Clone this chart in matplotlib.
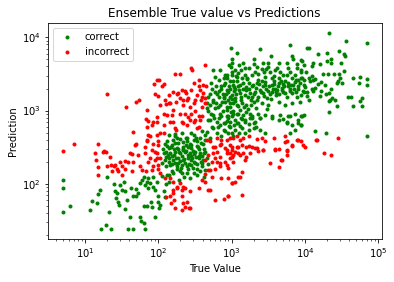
import numpy as np
import matplotlib
matplotlib.use("Agg")
import matplotlib.pyplot as plt

# log10 of true value / prediction
correct_true_log10 = [
    0.70, 0.70, 0.70, 0.80, 1.07, 1.10, 1.17, 1.16, 1.30, 1.20, 1.22, 1.29, 1.32, 1.35, 1.39, 1.41,
    1.43, 1.42, 1.45, 1.46, 1.48, 1.50, 1.53, 1.55, 1.57, 1.55, 1.58, 1.61, 1.63, 1.65, 1.66, 1.70,
    1.69, 1.72, 1.75, 1.76, 1.80, 1.82, 1.77, 1.75, 1.80, 1.82, 1.84, 1.86, 1.81, 1.84, 1.86, 1.89,
    1.90, 1.91, 1.92, 1.93, 1.95, 1.98, 1.99, 1.95, 1.99, 2.01, 2.09, 2.02, 2.07, 2.14, 2.05, 2.10, 2.12,
    # lower main cluster
    2.14, 2.23, 2.32, 2.39, 2.48, 2.57, 2.64, 2.09, 2.18, 2.27, 2.34, 2.43, 2.52, 2.61,
    2.11, 2.16, 2.23, 2.30, 2.36, 2.43, 2.50, 2.57, 2.64, 2.14, 2.20, 2.27, 2.34, 2.41, 2.48, 2.55, 2.61,
    2.16, 2.25, 2.32, 2.39, 2.45, 2.52, 2.59, 2.30, 2.39, 2.48, 2.57, 2.64, 2.18,
    2.20, 2.30, 2.39, 2.48, 2.14, 2.25, 2.34, 2.45, 2.55, 2.18, 2.32, 2.45, 2.59, 2.23, 2.36, 2.50,
    2.09, 2.07, 2.11, 2.20, 2.32,
    2.12, 2.27, 2.41, 2.53, 2.62, 2.29, 2.44, 2.37, 2.21, 2.51, 2.15, 2.40, 2.26, 2.47, 2.33, 2.58,
    2.66, 2.68, 2.05, 2.06, 2.22, 2.44, 2.60, 2.35, 2.28, 2.43, 2.52, 2.62, 2.15,
    2.13, 2.17, 2.19, 2.22, 2.24, 2.26, 2.28, 2.31, 2.33, 2.35, 2.38, 2.40, 2.42, 2.44, 2.46, 2.49,
    2.51, 2.53, 2.54, 2.56, 2.58, 2.60, 2.62, 2.63, 2.12, 2.10, 2.27, 2.37, 2.47, 2.21,
    2.66, 2.73, 2.68, 2.75, 2.80, 2.86, 3.02, 2.70, 2.91, 2.84, 2.95, 3.10,
    # upper main cluster
    2.99, 3.07, 3.39, 3.79, 3.00, 3.54, 3.82, 3.84, 3.30, 3.16, 3.31, 3.43, 3.50, 3.65, 3.75, 3.89,
    2.99, 3.18, 3.24, 3.34, 3.41, 3.49, 3.52, 3.59, 3.66, 3.77, 3.89,
    3.01, 3.00, 3.09, 3.18, 3.27, 3.36, 3.45, 3.55, 3.64, 3.75, 3.82, 3.95, 3.95,
    2.93, 2.91, 2.98, 3.07, 3.11, 3.05, 3.16, 3.23, 3.27, 3.34, 3.41, 3.45, 3.55, 3.59, 3.64, 3.70,
    3.77, 3.84, 3.91, 3.98,
    2.95, 3.00, 3.05, 3.11, 3.18, 3.25, 3.32, 3.36, 3.43, 3.48, 3.55, 3.61, 3.70, 3.75, 3.82, 3.89, 3.95,
    2.91, 2.98, 3.07, 3.14, 3.20, 3.30, 3.41, 3.50, 3.64, 3.73, 3.82, 3.93,
    2.93, 3.02, 3.11, 3.16, 3.25, 3.36, 3.45, 3.55, 3.66, 3.77, 3.86,
    2.95, 3.05, 3.18, 3.30, 3.75, 3.91, 3.98,
    2.85, 2.88, 2.96, 3.03, 3.08, 3.13, 3.20, 3.28, 3.38, 3.47, 3.52, 3.58, 3.62, 3.68, 3.72, 3.80,
    3.86, 3.88, 3.93, 2.97, 3.04, 3.09, 3.22, 3.33, 3.39, 3.48, 3.27, 3.12, 3.02, 3.14, 3.21, 3.26,
    2.90, 2.94, 3.04, 3.13, 3.36, 3.44, 3.62, 3.70, 3.79, 3.86, 3.91,
    2.71, 2.74, 2.78, 2.81, 2.83, 2.87, 2.90, 2.92, 2.95, 2.97, 2.99, 3.01, 3.03, 3.06, 3.08, 3.10,
    3.12, 3.15, 3.17, 3.19, 3.22, 3.24, 3.26, 3.29, 3.31, 3.33, 3.35, 3.37, 3.40, 3.42, 3.44, 3.46,
    3.49, 3.51, 3.53, 3.56, 3.58, 3.60, 3.63, 3.65, 3.67, 3.69, 3.71, 3.73, 3.77, 3.79, 3.81, 3.85,
    3.87, 3.90,
    2.76, 2.81, 2.86, 2.89, 2.93, 2.96, 3.00, 3.03, 3.07, 3.11, 3.14, 3.19, 3.23, 3.28, 3.33, 3.21,
    3.06, 2.89, 3.32, 3.47, 3.57, 2.84, 2.96, 3.10,
    3.00, 2.75, 2.77, 2.82, 2.91, 3.07, 2.73, 2.77, 2.86, 2.93, 3.02, 2.68, 2.75, 2.82, 2.89, 2.98,
    2.70, 2.77, 2.84, 2.93, 3.02, 2.68, 2.75, 2.84, 2.93, 3.02, 2.70, 2.80, 2.89, 2.98, 3.07,
    2.72, 2.80, 2.66, 2.79, 2.88, 2.72, 2.66, 2.83,
    2.95, 3.09, 3.18, 3.25, 3.32, 3.39, 3.55, 3.64, 3.70, 3.80, 2.91, 2.98, 3.05, 3.14, 3.23, 3.30,
    3.39, 3.45, 3.00, 3.18, 3.75, 3.82, 3.86, 3.91, 3.95, 3.80, 4.14, 4.29, 3.95,
    # right side
    4.32, 4.56, 4.84, 4.05, 4.03, 4.17, 4.30, 4.46, 4.53, 4.54, 4.36, 4.30, 4.49, 3.96, 3.98, 4.11,
    4.09, 4.21, 4.36, 4.53, 3.95, 4.01, 4.25, 4.31, 4.39, 4.46, 4.48, 4.45, 4.43, 4.50, 4.66, 4.75,
    4.84, 4.74, 4.84, 3.96, 3.99, 4.05, 4.07, 4.11, 4.14, 4.22, 4.27, 4.00, 4.03, 4.10, 4.13, 4.11,
    3.97, 3.99, 4.03, 4.22, 4.35, 4.33, 4.28, 4.34, 4.37, 4.41, 4.32, 4.43, 4.59, 4.62, 4.77, 4.75,
    4.65, 4.77, 4.32, 3.96, 3.95, 4.84, 3.95, 4.09, 4.18, 4.06, 4.20,
]
correct_pred_log10 = [
    2.05, 1.95, 1.62, 1.70, 1.64, 1.77, 1.86, 1.74, 2.10, 1.92, 1.38, 1.44, 1.62, 1.38, 2.00, 1.91,
    1.87, 1.81, 1.76, 1.71, 1.99, 1.92, 2.02, 1.90, 1.78, 1.66, 1.38, 1.55, 1.94, 1.83, 1.39, 1.93,
    1.83, 1.87, 1.55, 1.49, 1.47, 1.38, 2.05, 2.01, 2.10, 1.99, 2.03, 1.94, 1.70, 1.70, 2.08, 2.01,
    1.76, 1.69, 2.09, 1.96, 1.92, 2.03, 1.83, 1.55, 1.75, 1.67, 1.82, 1.71, 1.90, 2.03, 2.11, 2.00, 2.12,
    2.67, 2.65, 2.69, 2.62, 2.67, 2.62, 2.67, 2.55, 2.53, 2.56, 2.51, 2.55, 2.52, 2.55,
    2.44, 2.42, 2.44, 2.42, 2.44, 2.42, 2.44, 2.42, 2.44, 2.35, 2.33, 2.35, 2.33, 2.35, 2.30, 2.35, 2.33,
    2.26, 2.24, 2.26, 2.24, 2.26, 2.21, 2.24, 2.17, 2.15, 2.15, 2.17, 2.19, 2.17,
    2.60, 2.61, 2.58, 2.60, 2.49, 2.49, 2.46, 2.49, 2.47, 2.38, 2.38, 2.38, 2.38, 2.29, 2.29, 2.28,
    2.33, 2.42, 2.24, 2.15, 2.15,
    2.58, 2.47, 2.51, 2.58, 2.48, 2.31, 2.32, 2.53, 2.40, 2.37, 2.30, 2.20, 2.20, 2.45, 2.57, 2.30,
    2.36, 2.27, 2.29, 2.47, 2.68, 2.70, 2.72, 2.10, 2.06, 2.08, 2.12, 2.10, 2.12,
    2.39, 2.50, 2.27, 2.56, 2.36, 2.62, 2.44, 2.22, 2.48, 2.34, 2.63, 2.40, 2.27, 2.53, 2.35, 2.41,
    2.63, 2.27, 2.50, 2.38, 2.56, 2.28, 2.42, 2.60, 2.52, 2.37, 2.29, 2.45, 2.22, 2.47,
    2.71, 2.78, 2.87, 2.76, 2.69, 2.65, 2.65, 2.62, 2.72, 2.80, 2.70, 2.70,
    3.86, 3.78, 3.84, 3.90, 3.71, 3.74, 3.75, 3.71, 3.70, 3.65, 3.63, 3.65, 3.65, 3.65, 3.65, 3.63,
    3.60, 3.58, 3.58, 3.59, 3.57, 3.60, 3.53, 3.55, 3.53, 3.58, 3.58,
    3.53, 3.49, 3.51, 3.49, 3.49, 3.50, 3.46, 3.44, 3.45, 3.49, 3.44, 3.53, 3.44,
    3.44, 3.37, 3.40, 3.40, 3.35, 3.30, 3.30, 3.37, 3.33, 3.37, 3.40, 3.35, 3.35, 3.30, 3.37, 3.36,
    3.33, 3.35, 3.30, 3.35,
    3.26, 3.21, 3.17, 3.24, 3.21, 3.24, 3.26, 3.19, 3.24, 3.17, 3.26, 3.21, 3.26, 3.19, 3.24, 3.19, 3.21,
    3.12, 3.10, 3.08, 3.11, 3.08, 3.12, 3.10, 3.08, 3.12, 3.08, 3.10, 3.12,
    3.01, 2.99, 3.01, 2.94, 2.96, 2.96, 2.94, 2.92, 2.94, 2.92, 2.96,
    2.90, 2.87, 2.85, 2.83, 2.84, 2.87, 2.94,
    3.30, 3.22, 3.33, 3.27, 3.34, 3.18, 3.28, 3.18, 3.28, 3.30, 3.22, 3.40, 3.28, 3.31, 3.40, 3.30,
    3.39, 3.25, 3.38, 3.05, 3.13, 2.95, 3.02, 3.04, 2.90, 3.02, 2.90, 2.90, 3.40, 3.44, 3.43, 3.15,
    3.18, 3.48, 3.55, 3.55, 3.42, 3.52, 3.58, 3.48, 3.52, 3.48, 3.42,
    3.22, 3.12, 3.33, 3.05, 3.27, 3.12, 3.35, 3.23, 3.15, 3.30, 2.98, 3.16, 3.32, 3.23, 3.06, 3.28,
    3.14, 3.38, 3.05, 3.32, 3.18, 3.29, 3.08, 3.35, 3.22, 3.31, 3.14, 3.36, 3.26, 3.33, 3.20, 3.39,
    3.27, 3.34, 3.16, 3.29, 3.36, 3.25, 3.33, 3.22, 3.40, 3.28, 3.34, 3.24, 3.38, 3.27, 3.35, 3.29,
    3.42, 3.34,
    2.90, 2.78, 2.92, 2.74, 2.86, 2.79, 2.93, 2.81, 2.96, 2.79, 2.88, 2.98, 2.82, 2.93, 2.78, 3.45,
    3.47, 3.44, 3.52, 3.57, 3.47, 3.55, 3.62, 3.62,
    3.65, 3.55, 3.46, 3.42, 3.49, 3.46, 3.30, 3.26, 3.33, 3.28, 3.35, 3.19, 3.15, 3.19, 3.17, 3.19,
    3.08, 3.03, 3.08, 3.05, 3.10, 2.99, 2.94, 2.96, 2.92, 2.96, 2.87, 2.85, 2.83, 2.85, 2.83,
    3.38, 3.23, 3.10, 3.10, 3.00, 2.95, 3.03, 2.90,
    2.92, 2.83, 2.87, 2.90, 2.85, 2.90, 2.90, 2.87, 2.89, 2.92, 2.83, 2.78, 2.74, 2.76, 2.74, 2.76,
    2.74, 2.69, 2.69, 2.69, 2.83, 2.80, 2.74, 2.83, 2.80, 2.70, 2.72, 2.69, 2.92,
    4.06, 3.95, 3.92, 3.86, 3.85, 3.77, 3.78, 3.81, 3.77, 3.75, 3.71, 3.67, 3.65, 3.67, 3.62, 3.65,
    3.61, 3.63, 3.65, 3.54, 3.55, 3.52, 3.50, 3.50, 3.50, 3.50, 3.45, 3.41, 3.38, 3.37, 3.45, 3.46,
    3.43, 3.37, 3.35, 3.45, 3.42, 3.44, 3.40, 3.42, 3.43, 3.39, 3.35, 3.32, 3.26, 3.30, 3.31, 3.27,
    3.27, 3.25, 3.20, 3.27, 3.30, 3.24, 3.22, 3.15, 3.17, 3.15, 3.13, 3.06, 3.18, 3.18, 3.17, 3.13,
    3.06, 3.06, 2.98, 2.93, 2.80, 2.66, 3.69, 3.47, 3.36, 3.15, 3.20,
]

incorrect_true_log10 = [
    0.70, 0.85, 1.30, 1.56, 1.70, 1.74, 1.85, 1.83, 1.95, 1.98, 2.08, 2.23, 2.30, 2.46, 2.64, 1.66,
    1.18, 1.13, 1.15, 1.18, 1.18, 1.26, 1.28, 1.39, 1.41, 1.43, 1.45, 1.50, 1.37, 1.50, 1.55, 1.48,
    1.54, 1.64, 1.66, 1.68, 1.64, 1.72, 1.75, 1.77, 1.82, 1.82, 1.84, 1.86, 1.89, 1.91, 1.93, 1.95,
    1.98, 1.99, 2.00, 2.02, 1.83, 1.61, 1.59, 1.70, 1.85, 1.86, 1.84, 1.98, 2.02, 2.00, 1.93, 1.86,
    1.34, 1.30, 1.36, 1.25,
    1.94, 2.05, 2.01, 1.99, 2.02, 1.98, 2.09, 2.14, 2.16, 2.20, 2.20, 2.24, 2.27, 2.30, 2.32, 2.34,
    2.36, 2.38, 2.41, 2.45, 2.45, 2.48, 2.48, 2.50, 2.52, 2.55, 2.56, 2.57, 2.58, 2.59, 2.61, 2.63,
    2.65, 2.55, 2.43, 2.34, 2.20, 2.12, 2.14, 2.25,
    1.91, 1.98, 2.07, 2.16, 2.23, 2.32, 2.39, 2.48, 2.55, 1.89, 1.93, 1.95, 1.98, 2.00, 1.91, 2.02,
    2.07, 2.08, 2.11, 2.18, 2.24, 2.29, 2.41, 2.43, 2.45, 2.50, 2.52, 2.57, 2.59, 2.60, 2.61, 2.64,
    2.39, 2.33, 2.50, 2.36,
    2.09, 2.10, 2.20, 2.23, 2.34, 2.32, 2.43, 2.39, 2.59, 2.71, 2.77, 2.70, 2.64, 2.16, 2.17, 2.20,
    2.21, 2.26, 2.32, 2.36, 2.42, 2.32, 2.16, 2.20, 2.30, 2.43, 2.36, 2.25, 2.34, 2.55, 2.68, 2.90,
    2.95, 3.14, 2.95,
    2.93, 2.98, 3.02, 3.07, 3.11, 3.16, 3.23, 3.34, 3.41, 3.45, 3.57, 3.72, 3.76, 3.90, 3.95, 4.16,
    4.45, 3.00, 3.09, 3.20, 3.27, 3.34, 3.36, 3.43, 3.59, 3.64, 3.75, 3.82, 4.00, 4.26, 4.35, 2.98,
    3.05, 3.08, 3.11, 3.16, 3.20, 3.25, 3.18, 3.00, 2.93, 2.95, 3.02, 3.52, 3.64, 3.67, 3.76, 3.14,
    3.09, 3.04, 3.01,
    2.66, 2.80, 2.86, 2.70, 2.77, 2.84, 2.91, 2.98, 3.00, 3.07, 3.14, 3.23, 3.32, 3.43, 3.59, 3.76,
    2.68, 2.75, 2.84, 2.93, 3.02, 2.64, 2.73, 2.80, 2.91, 2.98, 3.69, 2.68, 2.77, 2.84, 2.64, 2.73,
    2.86, 3.00, 3.11, 2.75, 2.80, 2.86, 2.93, 2.77, 2.84, 2.95, 3.73, 3.82, 3.89, 3.97, 4.15,
]
incorrect_pred_log10 = [
    2.45, 2.55, 3.23, 3.05, 3.12, 3.15, 3.01, 2.88, 3.23, 3.42, 3.36, 3.50, 3.50, 3.56, 3.62, 2.71,
    2.54, 2.42, 2.33, 2.23, 2.12, 2.45, 2.44, 2.24, 2.26, 2.21, 2.17, 2.12, 2.17, 2.24, 2.21, 2.30,
    2.31, 2.17, 2.30, 2.53, 2.41, 2.40, 2.25, 2.19, 2.42, 2.51, 2.58, 2.30, 2.35, 2.46, 2.25, 2.33,
    2.42, 2.20, 2.53, 2.35, 2.17, 2.42, 2.30, 2.55, 2.78, 2.67, 2.60, 2.67, 2.69, 2.58, 2.85, 2.86,
    2.37, 2.24, 2.26, 2.44,
    3.36, 3.33, 3.42, 3.20, 3.08, 2.91, 3.15, 3.21, 3.10, 3.26, 3.01, 3.12, 3.24, 3.17, 3.28, 3.08,
    2.96, 3.24, 3.17, 3.58, 3.28, 3.37, 3.10, 2.99, 3.21, 3.33, 3.42, 3.28, 3.15, 3.05, 3.35, 3.17,
    3.33, 2.92, 2.87, 2.83, 2.85, 2.94, 3.10, 3.23,
    2.80, 2.85, 2.80, 2.85, 2.76, 2.85, 2.80, 2.85, 2.78, 2.65, 2.55, 2.44, 2.35, 2.26, 2.19, 2.15,
    2.69, 2.96, 3.09, 2.94, 2.74, 2.96, 2.91, 3.05, 2.96, 2.87, 2.76, 2.87, 2.92, 3.18, 3.24, 3.10,
    3.14, 3.14, 3.14, 3.27,
    2.08, 1.82, 1.87, 1.67, 1.74, 1.92, 1.67, 1.76, 2.05, 1.92, 1.78, 2.19, 2.14, 1.83, 1.74, 1.92,
    1.78, 1.96, 1.83, 1.69, 1.67, 1.65, 2.08, 2.03, 2.01, 1.90, 1.94, 1.94, 1.96, 1.94, 1.92, 1.80,
    1.83, 1.85, 1.84,
    2.60, 2.62, 2.63, 2.65, 2.60, 2.63, 2.65, 2.61, 2.62, 2.59, 2.63, 2.65, 2.59, 2.60, 2.58, 2.60,
    2.62, 2.51, 2.51, 2.51, 2.51, 2.49, 2.45, 2.46, 2.46, 2.47, 2.46, 2.52, 2.51, 2.42, 2.40, 2.42,
    2.44, 2.42, 2.39, 2.42, 2.37, 2.42, 2.33, 2.37, 2.26, 2.22, 2.30, 2.28, 2.23, 2.33, 2.40, 2.16,
    2.10, 2.03, 2.01,
    2.60, 2.62, 2.60, 2.58, 2.51, 2.53, 2.49, 2.53, 2.46, 2.51, 2.53, 2.52, 2.49, 2.46, 2.47, 2.45,
    2.40, 2.42, 2.37, 2.42, 2.40, 2.33, 2.30, 2.30, 2.30, 2.35, 2.33, 2.19, 2.21, 2.24, 2.03, 2.10,
    2.08, 2.01, 2.10, 2.51, 2.44, 2.55, 2.46, 2.35, 2.28, 2.08, 2.57, 2.53, 2.60, 2.53, 2.60,
]

labels = ["correct", "incorrect"]

ct = 10 ** np.array(correct_true_log10)
cp = 10 ** np.array(correct_pred_log10)
it = 10 ** np.array(incorrect_true_log10)
ip = 10 ** np.array(incorrect_pred_log10)

fig = plt.figure(figsize=(394 / 72, 282 / 72), dpi=72)
ax = fig.add_axes([47.7 / 394, 1 - 239.3 / 282, 334 / 394, 216 / 282])
ax.plot(ct, cp, "g.", label=labels[0])
ax.plot(it, ip, "r.", label=labels[1])
ax.set_xscale("log")
ax.set_yscale("log")
ax.set_xlim(10 ** 0.49, 10 ** 5.045)
ax.set_ylim(10 ** 1.245, 10 ** 4.19)
ax.set_title("Ensemble True value vs Predictions")
ax.set_xlabel("True Value")
ax.set_ylabel("Prediction")
ax.legend(loc="upper left")
fig.savefig("out.png", dpi=72)
